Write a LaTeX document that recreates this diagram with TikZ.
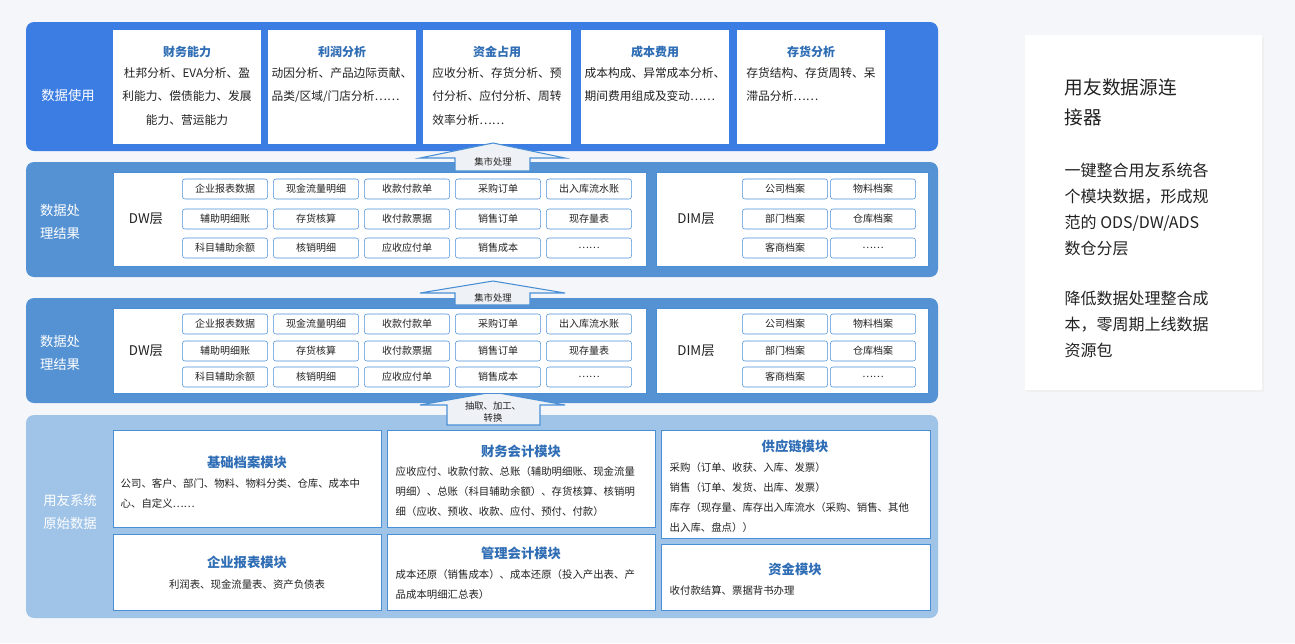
\documentclass[tikz,border=0pt]{standalone}
\usepackage{fontspec}
\setmainfont{Noto Sans CJK SC}
\definecolor{pone}{HTML}{3C7DE3}
\definecolor{ptwo}{HTML}{5592D3}
\definecolor{pfour}{HTML}{A0C4E8}
\definecolor{ttl}{HTML}{2F6DB5}
\definecolor{chipc}{HTML}{4A8FD6}
\definecolor{txt}{HTML}{222222}
\definecolor{bgc}{HTML}{F4F6FA}
\definecolor{arf}{HTML}{EEF1F5}
\begin{document}
\begin{tikzpicture}[x=0.75pt,y=-0.75pt,
  panel/.style={rounded corners=6pt},
  wbox/.style={fill=white,draw=chipc,line width=0.6pt},
  chip/.style={draw=chipc,fill=white,rounded corners=2pt,minimum width=64pt,minimum height=15pt,inner sep=0pt,font=\fontsize{7.5}{9}\selectfont,text=txt},
  plab/.style={text=white,font=\fontsize{10}{17}\selectfont,align=left},
  btitle/.style={text=ttl,font=\bfseries\fontsize{9}{11}\selectfont},
  btext/.style={text=txt,font=\fontsize{8}{15}\selectfont,align=left,anchor=north west},
  uparrow/.style={draw=chipc,fill=arf,line width=0.8pt},
  alab/.style={align=center,font=\fontsize{7}{9}\selectfont,text=txt}
]
\useasboundingbox (0,0) rectangle (1295,643);
\fill[bgc] (0,0) rectangle (1295,643);
% panels
\fill[pone,panel] (26,22) rectangle (938,151);
\fill[ptwo,panel] (26,162) rectangle (938,277);
\fill[ptwo,panel] (26,298) rectangle (938,403);
\fill[pfour,panel] (26,415) rectangle (938,618);
\node[plab] (l1) at (68,95) {数据使用};
\node[plab] (l2) at (60,222) {数据处\\理结果};
\node[plab] (l3) at (60,353) {数据处\\理结果};
\node[plab] (l4) at (70,512) {用友系统\\原始数据};
% top boxes
\foreach \x/\t/\b/\al/\n in {113/财务能力/{杜邦分析、EVA分析、盈\\利能力、偿债能力、发展\\能力、营运能力}/center/a,
  268/利润分析/{动因分析、产品边际贡献、\\品类/区域/门店分析……}/left/b,
  423/资金占用/{应收分析、存货分析、预\\付分析、应付分析、周转\\效率分析……}/left/c,
  581/成本费用/{成本构成、异常成本分析、\\期间费用组成及变动……}/left/d,
  737/存货分析/{存货结构、存货周转、呆\\滞品分析……}/left/e}{
  \fill[white] (\x,30) rectangle (\x+148,144);
  \node[btitle] (t\n) at (\x+74,52) {\t};
  \node[text=txt,font=\fontsize{8.8}{17.5}\selectfont,align=\al,anchor=north] (b\n) at (\x+74,63) {\b};
}
% arrows
\draw[uparrow] (493,143) -- (565,158) -- (530,158) -- (530,171) -- (455,171) -- (455,158) -- (420,158) -- cycle;
\node[alab] (al1) at (493,162) {集市处理};
\draw[uparrow] (493,281) -- (565,293) -- (530,293) -- (530,305) -- (455,305) -- (455,293) -- (420,293) -- cycle;
\node[alab] (al2) at (493,298) {集市处理};
\draw[uparrow] (493,392) -- (565,405) -- (540,405) -- (540,425) -- (447,425) -- (447,405) -- (420,405) -- cycle;
\node[alab] (al3) at (493,412) {抽取、加工、\\转换};
% DW/DIM layers
\foreach \yt/\yb/\ra/\rb/\rc/\s in {172/266/189/219/248/u, 308/393/324/351/377/v}{
  \fill[wbox] (113,\yt) rectangle (646,\yb);
  \fill[wbox] (656,\yt) rectangle (928,\yb);
  \node[text=txt,font=\fontsize{10}{12}\selectfont] (dw\s) at (146,{(\yt+\yb)/2}) {DW层};
  \node[text=txt,font=\fontsize{10}{12}\selectfont] (dim\s) at (696,{(\yt+\yb)/2}) {DIM层};
  \node[chip] (c11\s) at (225,\ra) {企业报表数据};
  \node[chip] (c12\s) at (316,\ra) {现金流量明细};
  \node[chip] (c13\s) at (407,\ra) {收款付款单};
  \node[chip] (c14\s) at (498,\ra) {采购订单};
  \node[chip] (c15\s) at (589,\ra) {出入库流水账};
  \node[chip] (c21\s) at (225,\rb) {辅助明细账};
  \node[chip] (c22\s) at (316,\rb) {存货核算};
  \node[chip] (c23\s) at (407,\rb) {收付款票据};
  \node[chip] (c24\s) at (498,\rb) {销售订单};
  \node[chip] (c25\s) at (589,\rb) {现存量表};
  \node[chip] (c31\s) at (225,\rc) {科目辅助余额};
  \node[chip] (c32\s) at (316,\rc) {核销明细};
  \node[chip] (c33\s) at (407,\rc) {应收应付单};
  \node[chip] (c34\s) at (498,\rc) {销售成本};
  \node[chip] (c35\s) at (589,\rc) {……};
  \node[chip] (d11\s) at (785,\ra) {公司档案};
  \node[chip] (d12\s) at (873,\ra) {物料档案};
  \node[chip] (d21\s) at (785,\rb) {部门档案};
  \node[chip] (d22\s) at (873,\rb) {仓库档案};
  \node[chip] (d31\s) at (785,\rc) {客商档案};
  \node[chip] (d32\s) at (873,\rc) {……};
}
% bottom boxes
\fill[wbox] (113,430) rectangle (381,527);
\fill[wbox] (113,534) rectangle (381,610);
\fill[wbox] (387,430) rectangle (655,527);
\fill[wbox] (387,534) rectangle (655,610);
\fill[wbox] (661,430) rectangle (930,538);
\fill[wbox] (661,544) rectangle (930,610);
\node[btitle,font=\bfseries\fontsize{10}{12}\selectfont] (m1) at (247,462) {基础档案模块};
\node[btext,font=\fontsize{7.8}{15}\selectfont] (m1t) at (116,474) {公司、客户、部门、物料、物料分类、仓库、成本中\\心、自定义……};
\node[btitle,font=\bfseries\fontsize{10}{12}\selectfont] (m2) at (247,562) {企业报表模块};
\node[text=txt,font=\fontsize{7.8}{10}\selectfont] (m2t) at (247,585) {利润表、现金流量表、资产负债表};
\node[btitle,font=\bfseries\fontsize{10}{12}\selectfont] (m3) at (521,451) {财务会计模块};
\node[btext,font=\fontsize{7.8}{15}\selectfont] (m3t) at (391,462) {应收应付、收款付款、总账（辅助明细账、现金流量\\明细）、总账（科目辅助余额）、存货核算、核销明\\细（应收、预收、收款、应付、预付、付款）};
\node[btitle,font=\bfseries\fontsize{10}{12}\selectfont] (m4) at (521,553) {管理会计模块};
\node[btext,font=\fontsize{7.8}{15}\selectfont] (m4t) at (391,565) {成本还原（销售成本）、成本还原（投入产出表、产\\品成本明细汇总表）};
\node[btitle,font=\bfseries\fontsize{10}{12}\selectfont] (m5) at (795,446) {供应链模块};
\node[btext,font=\fontsize{7.8}{15}\selectfont] (m5t) at (665,458) {采购（订单、收获、入库、发票）\\销售（订单、发货、出库、发票）\\库存（现存量、库存出入库流水（采购、销售、其他\\出入库、盘点））};
\node[btitle,font=\bfseries\fontsize{10}{12}\selectfont] (m6) at (795,569) {资金模块};
\node[text=txt,font=\fontsize{7.8}{10}\selectfont,anchor=west] (m6t) at (665,591) {收付款结算、票据背书办理};
% right card
\fill[black!6] (1026,37) rectangle (1264,392);
\fill[white] (1025,35) rectangle (1262,390);
\node[text=txt,font=\fontsize{14}{22.5}\selectfont,align=left,anchor=north west] (rt) at (1060,74) {用友数据源连\\接器};
\node[text=txt,font=\fontsize{12}{19.5}\selectfont,align=left,anchor=north west] (rp1) at (1060,158) {一键整合用友系统各\\个模块数据，形成规\\范的 ODS/DW/ADS\\数仓分层};
\node[text=txt,font=\fontsize{12}{19.5}\selectfont,align=left,anchor=north west] (rp2) at (1060,286) {降低数据处理整合成\\本，零周期上线数据\\资源包};
\end{tikzpicture}
\end{document}
